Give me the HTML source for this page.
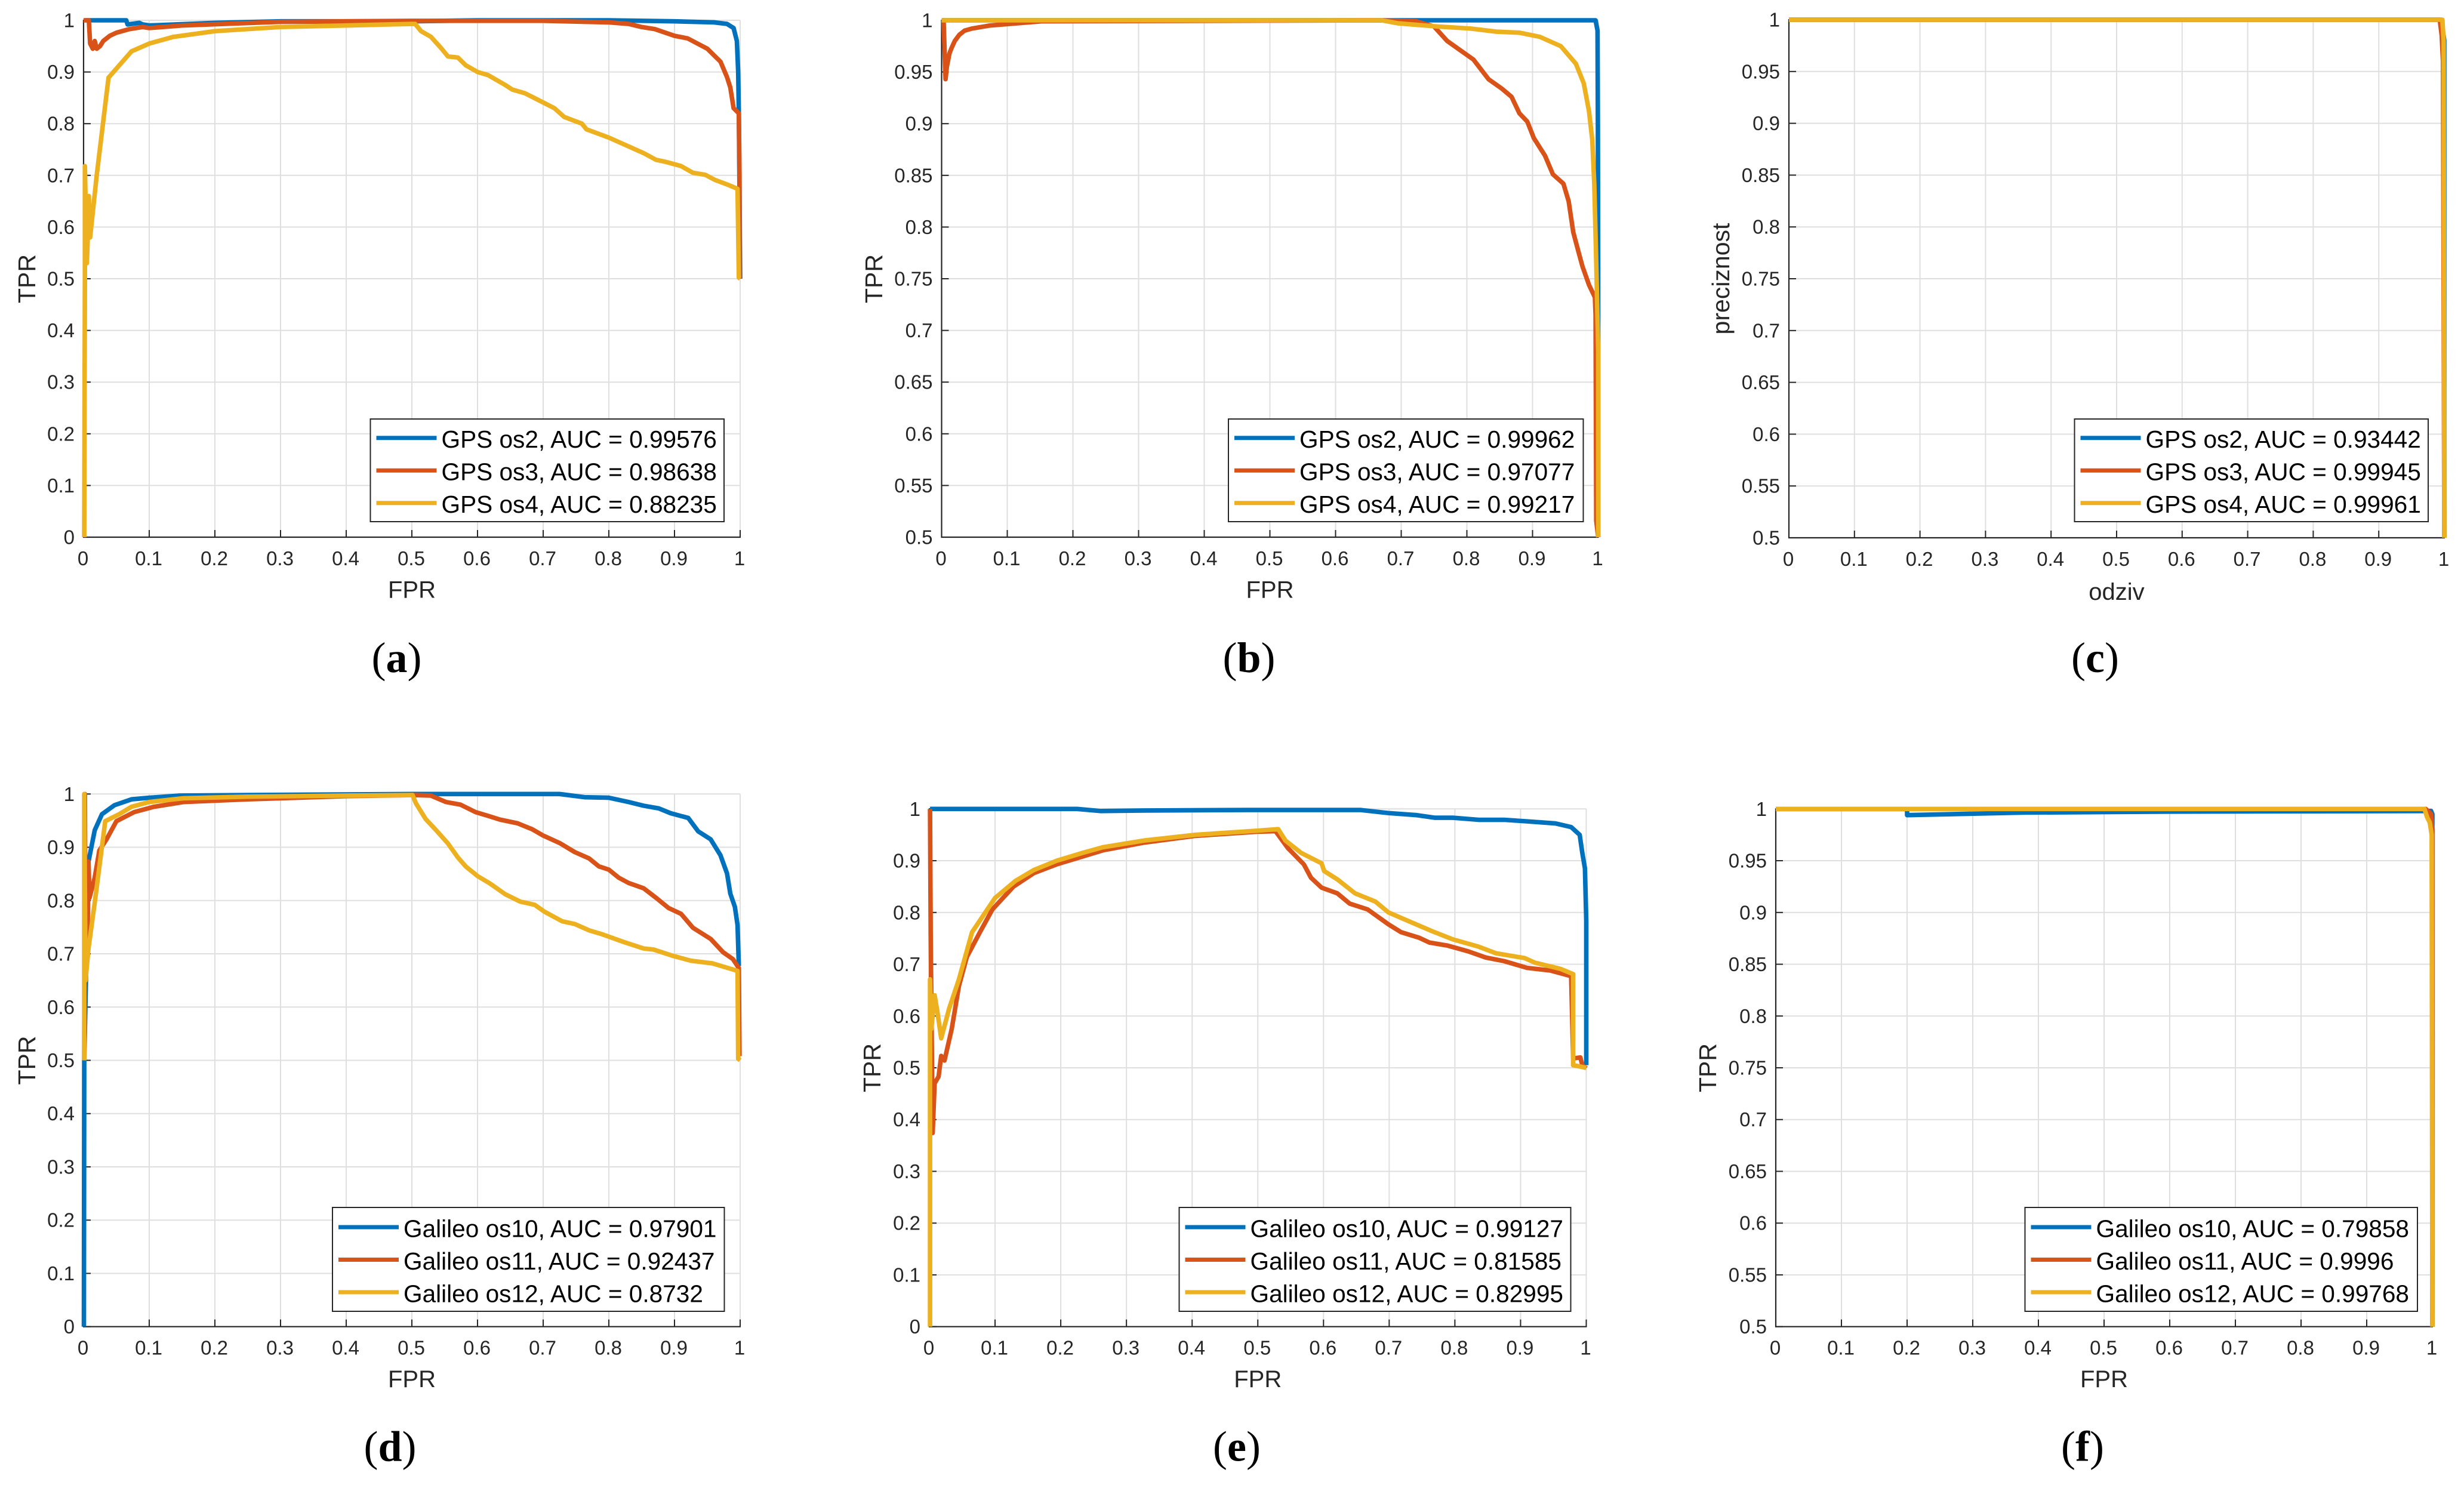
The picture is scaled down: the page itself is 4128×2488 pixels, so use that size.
<!DOCTYPE html>
<html lang="en">
<head>
<meta charset="utf-8">
<title>ROC and precision-recall curves</title>
<style>
html,body{margin:0;padding:0;background:#fff;}
svg{display:block;}
text{font-family:"Liberation Sans",sans-serif;}
</style>
</head>
<body>
<svg id="figure" xmlns="http://www.w3.org/2000/svg" width="4128" height="2488" viewBox="0 0 4128 2488"></svg>
<script>
// Axis tick labels
const xTickLabels = ['0','0.1','0.2','0.3','0.4','0.5','0.6','0.7','0.8','0.9','1'];
const yTickLabelsFull = ['0','0.1','0.2','0.3','0.4','0.5','0.6','0.7','0.8','0.9','1'];
const yTickLabelsZoom = ['0.5','0.55','0.6','0.65','0.7','0.75','0.8','0.85','0.9','0.95','1'];

// Panel a
const fprA1 = [0.003,0.065,0.067,0.085,0.09,0.1,0.2,0.3,0.5,0.6,0.8,0.9,0.96,0.98,0.99,0.995,0.997,0.998,0.999,1];
const tprA1 = [1,1,0.992,0.995,0.992,0.99,0.995,0.998,0.998,1,1,0.998,0.996,0.993,0.985,0.96,0.9,0.82,0.67,0.5];
const fprA2 = [0,0.008,0.01,0.012,0.014,0.017,0.02,0.025,0.03,0.04,0.05,0.07,0.09,0.1,0.15,0.3,0.5,0.7,0.8,0.83,0.85,0.87,0.9,0.92,0.95,0.97,0.98,0.985,0.99,0.998,0.999,0.999];
const tprA2 = [1,1,0.955,0.95,0.945,0.96,0.945,0.95,0.96,0.97,0.976,0.983,0.987,0.985,0.99,0.997,0.999,0.999,0.996,0.993,0.987,0.983,0.97,0.965,0.945,0.92,0.89,0.87,0.83,0.82,0.7,0.5];
const fprA3 = [0.001,0.002,0.002,0.005,0.007,0.008,0.01,0.02,0.038,0.073,0.1,0.137,0.2,0.3,0.4,0.5,0.505,0.514,0.529,0.544,0.555,0.57,0.582,0.6,0.616,0.642,0.653,0.672,0.7,0.717,0.732,0.759,0.766,0.8,0.823,0.853,0.872,0.887,0.91,0.928,0.947,0.962,0.981,0.996,0.998,1];
const tprA3 = [0,0.5,0.718,0.53,0.6,0.66,0.58,0.7,0.889,0.94,0.955,0.968,0.979,0.987,0.99,0.993,0.993,0.979,0.968,0.947,0.93,0.928,0.913,0.9,0.894,0.875,0.866,0.859,0.841,0.83,0.813,0.8,0.789,0.773,0.76,0.743,0.73,0.726,0.718,0.705,0.701,0.691,0.682,0.674,0.502,0.5];

// Panel b
const fprB1 = [0,0.996,0.999,0.9995,1,1];
const tprB1 = [1,1,0.99,0.9,0.75,0.5];
const fprB2 = [0.001,0.003,0.006,0.008,0.012,0.015,0.02,0.027,0.035,0.046,0.074,0.152,0.67,0.723,0.75,0.77,0.79,0.81,0.833,0.853,0.868,0.88,0.892,0.902,0.919,0.931,0.947,0.955,0.962,0.97,0.976,0.986,0.995,0.996,0.997,1];
const tprB2 = [1,1,0.943,0.955,0.968,0.973,0.98,0.986,0.99,0.992,0.995,0.999,1,0.999,0.994,0.98,0.971,0.962,0.943,0.934,0.926,0.91,0.902,0.886,0.869,0.851,0.842,0.825,0.795,0.776,0.762,0.744,0.732,0.715,0.516,0.5];
const fprB3 = [0,0.15,0.67,0.696,0.755,0.806,0.845,0.88,0.911,0.943,0.966,0.978,0.986,0.991,0.994,0.997,1,1];
const tprB3 = [1,1,1,0.997,0.994,0.992,0.989,0.988,0.984,0.975,0.958,0.939,0.912,0.884,0.842,0.766,0.68,0.5];

// Panel c
const recallC1 = [0,0.995,1,1];
const precisionC1 = [1,1,0.98,0.5];
const recallC2 = [0,0.993,0.996,0.998,1];
const precisionC2 = [1,1,0.985,0.96,0.5];
const recallC3 = [0,0.997,0.999,1];
const precisionC3 = [1,1,0.98,0.5];

// Panel d
const fprD1 = [0.0005,0.001,0.0075,0.017,0.028,0.047,0.073,0.1,0.145,0.25,0.503,0.725,0.763,0.8,0.83,0.853,0.876,0.894,0.921,0.936,0.955,0.97,0.98,0.985,0.992,0.996,0.998];
const tprD1 = [0,0.5,0.873,0.932,0.962,0.979,0.99,0.993,0.997,0.998,1,1,0.994,0.993,0.985,0.978,0.973,0.964,0.955,0.93,0.915,0.885,0.851,0.813,0.788,0.754,0.677];
const fprD2 = [0.001,0.002,0.003,0.006,0.0075,0.009,0.017,0.024,0.035,0.05,0.077,0.107,0.152,0.25,0.4,0.503,0.529,0.552,0.574,0.597,0.616,0.634,0.661,0.683,0.7,0.725,0.748,0.77,0.785,0.8,0.815,0.83,0.853,0.872,0.891,0.91,0.928,0.955,0.974,0.989,0.998,0.999];
const tprD2 = [0.5,1,0.7,0.72,0.873,0.805,0.843,0.894,0.915,0.949,0.966,0.976,0.985,0.99,0.996,0.998,0.997,0.985,0.98,0.966,0.959,0.952,0.945,0.934,0.922,0.908,0.891,0.879,0.864,0.858,0.843,0.833,0.823,0.805,0.786,0.775,0.749,0.728,0.703,0.69,0.673,0.508];
const fprD3 = [0.001,0.001,0.003,0.0075,0.017,0.033,0.054,0.073,0.1,0.152,0.25,0.4,0.501,0.506,0.521,0.537,0.555,0.57,0.582,0.6,0.619,0.642,0.665,0.687,0.702,0.729,0.748,0.77,0.789,0.823,0.853,0.868,0.898,0.925,0.958,0.996,0.997,1];
const tprD3 = [0.5,1,0.65,0.71,0.796,0.949,0.962,0.976,0.985,0.992,0.995,0.997,0.998,0.983,0.953,0.932,0.907,0.881,0.864,0.846,0.832,0.812,0.798,0.792,0.779,0.761,0.756,0.744,0.737,0.722,0.71,0.708,0.696,0.687,0.682,0.668,0.503,0.5];

// Panel e
const fprE1 = [0.001,0.225,0.26,0.327,0.484,0.656,0.699,0.742,0.769,0.797,0.836,0.875,0.91,0.953,0.977,0.99,0.994,0.998,1,1];
const tprE1 = [1,1,0.996,0.997,0.998,0.998,0.992,0.988,0.983,0.983,0.979,0.979,0.976,0.972,0.965,0.95,0.915,0.885,0.784,0.505];
const fprE2 = [0.001,0.002,0.005,0.008,0.014,0.018,0.023,0.034,0.045,0.057,0.077,0.096,0.128,0.159,0.194,0.233,0.264,0.327,0.405,0.499,0.527,0.546,0.57,0.581,0.597,0.621,0.64,0.667,0.699,0.718,0.746,0.761,0.789,0.82,0.847,0.875,0.91,0.945,0.977,0.98,0.991,0.994,1];
const tprE2 = [1,0.758,0.374,0.47,0.483,0.523,0.514,0.575,0.658,0.714,0.762,0.806,0.85,0.876,0.893,0.908,0.92,0.935,0.948,0.956,0.957,0.924,0.893,0.867,0.848,0.837,0.817,0.806,0.777,0.762,0.751,0.742,0.736,0.725,0.713,0.706,0.693,0.688,0.677,0.518,0.52,0.505,0.499];
const fprE3 = [0.001,0.001,0.003,0.008,0.012,0.018,0.03,0.045,0.065,0.1,0.131,0.159,0.194,0.233,0.264,0.327,0.405,0.499,0.531,0.542,0.566,0.597,0.601,0.621,0.648,0.679,0.699,0.73,0.765,0.797,0.836,0.863,0.906,0.922,0.961,0.98,0.98,1];
const tprE3 = [0,0.671,0.575,0.64,0.61,0.557,0.614,0.671,0.762,0.828,0.861,0.882,0.9,0.915,0.926,0.939,0.95,0.958,0.961,0.939,0.915,0.895,0.88,0.864,0.837,0.821,0.8,0.783,0.764,0.748,0.734,0.721,0.712,0.703,0.691,0.681,0.505,0.5];

// Panel f
const fprF1 = [0,0.2,0.2,0.38,0.6,0.99,0.998,1,1];
const tprF1 = [1,1,0.994,0.9965,0.9974,0.998,0.998,0.995,0.5];
const fprF2 = [0,0.99,0.998,1,1];
const tprF2 = [1,1,0.995,0.98,0.5];
const fprF3 = [0,0.988,0.992,0.996,0.999,1];
const tprF3 = [1,1,0.992,0.987,0.975,0.5];

// Legend text
const legendA = ['GPS os2, AUC = 0.99576','GPS os3, AUC = 0.98638','GPS os4, AUC = 0.88235'];
const legendB = ['GPS os2, AUC = 0.99962','GPS os3, AUC = 0.97077','GPS os4, AUC = 0.99217'];
const legendC = ['GPS os2, AUC = 0.93442','GPS os3, AUC = 0.99945','GPS os4, AUC = 0.99961'];
const legendD = ['Galileo os10, AUC = 0.97901','Galileo os11, AUC = 0.92437','Galileo os12, AUC = 0.8732'];
const legendE = ['Galileo os10, AUC = 0.99127','Galileo os11, AUC = 0.81585','Galileo os12, AUC = 0.82995'];
const legendF = ['Galileo os10, AUC = 0.79858','Galileo os11, AUC = 0.9996','Galileo os12, AUC = 0.99768'];

const seriesColors = ['#0072BD','#D95319','#EDB120'];
const NS = 'http://www.w3.org/2000/svg';
const figure = document.getElementById('figure');

function makeEl(tag, parent) {
  const el = document.createElementNS(NS, tag);
  parent.appendChild(el);
  return el;
}
function makeLine(parent, x1, y1, x2, y2, color, width, name) {
  const el = makeEl('line', parent);
  el.setAttribute('x1', x1);
  el.setAttribute('y1', y1);
  el.setAttribute('x2', x2);
  el.setAttribute('y2', y2);
  el.setAttribute('stroke', color);
  el.setAttribute('stroke-width', width);
  
  
  return el;
}
function makeText(parent, x, y, str, size, anchor, color, name) {
  const el = makeEl('text', parent);
  el.setAttribute('x', x);
  el.setAttribute('y', y);
  el.setAttribute('font-size', size);
  el.setAttribute('text-anchor', anchor);
  el.setAttribute('fill', color);
  
  
  el.textContent = str;
  return el;
}

function drawPanel(p) {
  const g = makeEl('g', figure);
  
  

  const width = p.right - p.left;
  const height = p.bottom - p.top;
  const sx = v => p.left + v * width;
  const sy = v => p.bottom - (v - p.yMin) / (1 - p.yMin) * height;

  // Grid
  xTickLabels.forEach(label => {
    const v = parseFloat(label);
    makeLine(g, sx(v), p.top, sx(v), p.bottom, '#dfdfdf', 2, 'x-gridline-' + label);
  });
  p.yLabels.forEach(label => {
    const v = parseFloat(label);
    makeLine(g, p.left, sy(v), p.right, sy(v), '#dfdfdf', 2, 'y-gridline-' + label);
  });

  // Axes and ticks
  makeLine(g, p.left, p.top - 1, p.left, p.bottom + 1, '#262626', 2.2, 'y-axis-line');
  makeLine(g, p.left - 1, p.bottom, p.right + 1, p.bottom, '#262626', 2.2, 'x-axis-line');
  xTickLabels.forEach(label => {
    const v = parseFloat(label);
    makeLine(g, sx(v), p.bottom, sx(v), p.bottom - 12, '#262626', 2, 'x-tick-' + label);
    makeText(g, sx(v) - 1, p.bottom + 47, label, 33, 'middle', '#262626', 'x-tick-label-' + label);
  });
  p.yLabels.forEach(label => {
    const v = parseFloat(label);
    makeLine(g, p.left, sy(v), p.left + 12, sy(v), '#262626', 2, 'y-tick-' + label);
    makeText(g, p.left - 15, sy(v) + 11.5, label, 33, 'end', '#262626', 'y-tick-label-' + label);
  });

  // Axis titles
  makeText(g, (p.left + p.right) / 2, p.bottom + p.xTitleOffset, p.xTitle, 40, 'middle', '#262626', 'x-axis-title');
  const yt = makeText(g, 0, 0, p.yTitle, 41, 'middle', '#262626', 'y-axis-title');
  yt.setAttribute('transform', 'translate(' + p.yTitleX + ' ' + (p.top + p.bottom) / 2 + ') rotate(-90)');

  // Series
  p.series.forEach((s, i) => {
    const path = makeEl('path', g);
    const d = s.x.map((xv, k) => (k ? 'L' : 'M') + sx(xv).toFixed(2) + ' ' + sy(s.y[k]).toFixed(2)).join('');
    path.setAttribute('d', d);
    path.setAttribute('fill', 'none');
    path.setAttribute('stroke', seriesColors[i]);
    path.setAttribute('stroke-width', 7.6);
    path.setAttribute('stroke-linejoin', 'round');
    
    
  });

  // Legend
  const lg = makeEl('g', g);
  
  
  const box = makeEl('rect', lg);
  box.setAttribute('x', p.legendLeft);
  box.setAttribute('y', p.legendTop);
  box.setAttribute('width', p.legendRight - p.legendLeft);
  box.setAttribute('height', p.legendHeight);
  box.setAttribute('fill', '#fff');
  box.setAttribute('stroke', '#262626');
  box.setAttribute('stroke-width', 2);
  
  
  p.legend.forEach((label, i) => {
    const rowY = p.legendTop + p.legendRow0 + i * 54.5;
    makeLine(lg, p.legendLeft + 10, rowY, p.legendLeft + 111, rowY, seriesColors[i], 7, 'legend-swatch-' + (i + 1));
    makeText(lg, p.legendLeft + 119, rowY + 16.5, label, 40.6, 'start', '#000', 'legend-entry-' + (i + 1));
  });

  // Caption
  const cap = makeText(g, p.captionX, p.captionY, '', 72, 'middle', '#000', 'caption-' + p.id);
  cap.style.fontFamily = '"Liberation Serif",serif';
  const open = makeEl('tspan', cap);
  open.textContent = '(';
  const letter = makeEl('tspan', cap);
  letter.setAttribute('font-weight', 'bold');
  letter.textContent = p.id;
  const close = makeEl('tspan', cap);
  close.textContent = ')';
}

drawPanel({id:'a', left:140, right:1240, top:34, bottom:900, yMin:0, yLabels:yTickLabelsFull,
  xTitle:'FPR', yTitle:'TPR', xTitleOffset:101.5, yTitleX:59,
  legend:legendA, legendLeft:620.5, legendRight:1213, legendTop:702, legendHeight:172, legendRow0:31.7,
  captionX:664.5, captionY:1126,
  series:[{x:fprA1,y:tprA1},{x:fprA2,y:tprA2},{x:fprA3,y:tprA3}]});
drawPanel({id:'b', left:1577.5, right:2677.5, top:34, bottom:900, yMin:0.5, yLabels:yTickLabelsZoom,
  xTitle:'FPR', yTitle:'TPR', xTitleOffset:101.5, yTitleX:1478,
  legend:legendB, legendLeft:2058, legendRight:2652.5, legendTop:702, legendHeight:172, legendRow0:31.7,
  captionX:2092.5, captionY:1126,
  series:[{x:fprB1,y:tprB1},{x:fprB2,y:tprB2},{x:fprB3,y:tprB3}]});
drawPanel({id:'c', left:2997, right:4095, top:33, bottom:901, yMin:0.5, yLabels:yTickLabelsZoom,
  xTitle:'odziv', yTitle:'preciznost', xTitleOffset:104, yTitleX:2897,
  legend:legendC, legendLeft:3475.5, legendRight:4068, legendTop:702, legendHeight:172, legendRow0:31.7,
  captionX:3510, captionY:1126,
  series:[{x:recallC1,y:precisionC1},{x:recallC2,y:precisionC2},{x:recallC3,y:precisionC3}]});
drawPanel({id:'d', left:140, right:1240, top:1330.3, bottom:2222.7, yMin:0, yLabels:yTickLabelsFull,
  xTitle:'FPR', yTitle:'TPR', xTitleOffset:101.5, yTitleX:59,
  legend:legendD, legendLeft:557, legendRight:1213.5, legendTop:2023, legendHeight:174, legendRow0:33,
  captionX:653.5, captionY:2447.5,
  series:[{x:fprD1,y:tprD1},{x:fprD2,y:tprD2},{x:fprD3,y:tprD3}]});
drawPanel({id:'e', left:1557, right:2657.5, top:1355.3, bottom:2222.7, yMin:0, yLabels:yTickLabelsFull,
  xTitle:'FPR', yTitle:'TPR', xTitleOffset:101.5, yTitleX:1475,
  legend:legendE, legendLeft:1975.5, legendRight:2631.5, legendTop:2023, legendHeight:174, legendRow0:33,
  captionX:2072, captionY:2447.5,
  series:[{x:fprE1,y:tprE1},{x:fprE2,y:tprE2},{x:fprE3,y:tprE3}]});
drawPanel({id:'f', left:2975, right:4075, top:1355.3, bottom:2222.7, yMin:0.5, yLabels:yTickLabelsZoom,
  xTitle:'FPR', yTitle:'TPR', xTitleOffset:101.5, yTitleX:2875,
  legend:legendF, legendLeft:3392.5, legendRight:4050, legendTop:2023, legendHeight:174, legendRow0:33,
  captionX:3489, captionY:2447.5,
  series:[{x:fprF1,y:tprF1},{x:fprF2,y:tprF2},{x:fprF3,y:tprF3}]});
</script>
</body>
</html>
